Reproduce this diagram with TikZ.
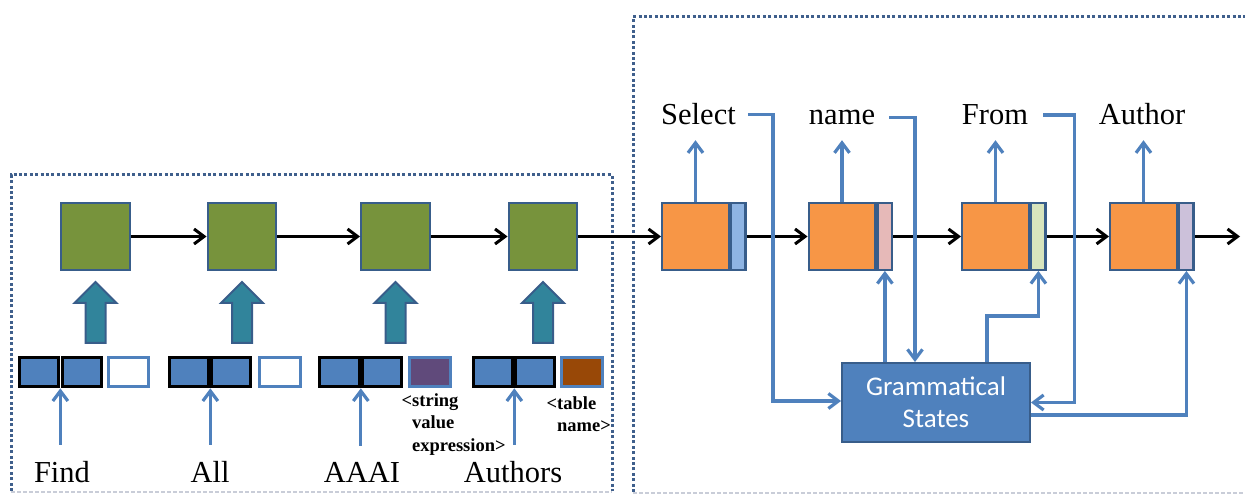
\documentclass[tikz,border=0pt]{standalone}
\usepackage{fontspec}
\setmainfont{Liberation Serif}
\newfontfamily\gsfont{Carlito}
\usetikzlibrary{arrows.meta}

\definecolor{edgeblue}{HTML}{385D8A}
\definecolor{framecol}{HTML}{3F5F8C}
\definecolor{framelight}{HTML}{C9CDD8}
\definecolor{leaf}{HTML}{77933C}
\definecolor{orangefill}{HTML}{F79646}
\definecolor{tealfill}{HTML}{31849B}
\definecolor{cellblue}{HTML}{4F81BD}
\definecolor{plum}{HTML}{604A7B}
\definecolor{rust}{HTML}{984807}
\definecolor{stripA}{HTML}{8EB4E3}
\definecolor{stripB}{HTML}{E6B9B8}
\definecolor{stripC}{HTML}{D7E4BD}
\definecolor{stripD}{HTML}{CCC1DA}
\definecolor{wireblue}{HTML}{4F81BD}

\begin{document}
\begin{tikzpicture}[x=1pt,y=-1pt,
  frame/.style={draw=framecol, line width=3pt, dash pattern=on 3pt off 2.4pt},
  framebottom/.style={draw=framelight, line width=1.6pt, dash pattern=on 4pt off 2pt},
  gbox/.style={draw=edgeblue, fill=leaf, line width=2.4pt, minimum width=68.5pt, minimum height=66.5pt, inner sep=0pt},
  obox/.style={draw=edgeblue, fill=orangefill, line width=2.4pt, minimum width=66.5pt, minimum height=66.5pt, inner sep=0pt},
  strip/.style={draw=edgeblue, fill=#1, line width=2.4pt, minimum width=14.5pt, minimum height=66.5pt, inner sep=0pt, anchor=west},
  ecell/.style={draw=black, fill=cellblue, line width=3.2pt, minimum width=39.5pt, minimum height=29.5pt, inner sep=0pt},
  tcell/.style={draw=cellblue, fill=#1, line width=2.6pt, minimum width=40.5pt, minimum height=29.5pt, inner sep=0pt},
  word/.style={font=\fontsize{30.5}{34}\selectfont, inner sep=0pt, text depth=0pt, anchor=base},
  tag/.style={font=\fontsize{18.5}{22.5}\selectfont\bfseries, inner sep=0pt, align=left, anchor=north west},
  flow/.style={draw=black, line width=3pt, -{Straight Barb[length=10pt,width=15pt]}},
  wire/.style={draw=wireblue, line width=3.2pt, -{Straight Barb[length=10pt,width=15pt]}},
  fatarrow/.style={draw=edgeblue, fill=tealfill, line width=2pt},
  gstate/.style={draw=edgeblue, fill=cellblue, line width=2.4pt, minimum width=187.5pt, minimum height=78.5pt,
    inner sep=0pt, text=white, align=center, font=\gsfont\fontsize{27}{32}\selectfont}
]
\useasboundingbox (0,0) rectangle (1245,494);

% dotted frames: encoder (left) and decoder (right)
\draw[frame] (11,491) -- (11,175) -- (612,175) -- (612,491);
\draw[framebottom] (11,492) -- (612,492);
\draw[frame] (633,492) -- (633,17) -- (1245,17);
\draw[framebottom] (633,493) -- (1245,493);

% encoder states
\node[gbox] (g1) at (95.5,236.5) {};
\node[gbox] (g2) at (242,236.5) {};
\node[gbox] (g3) at (395.5,236.5) {};
\node[gbox] (g4) at (543,236.5) {};

% decoder states with grammatical-state strips
\node[obox] (o1) at (695.5,236.5) {};
\node[strip=stripA] (s1) at (o1.east) {};
\node[obox] (o2) at (842,236.5) {};
\node[strip=stripB] (s2) at (o2.east) {};
\node[obox] (o3) at (995.5,236.5) {};
\node[strip=stripC] (s3) at (o3.east) {};
\node[obox] (o4) at (1143.5,236.5) {};
\node[strip=stripD] (s4) at (o4.east) {};
\coordinate (tail) at (1240,236.5);

% recurrent connections
\draw[flow] (g1.east) -- (g2.west);
\draw[flow] (g2.east) -- (g3.west);
\draw[flow] (g3.east) -- (g4.west);
\draw[flow] (g4.east) -- (o1.west);
\draw[flow] (s1.east) -- (o2.west);
\draw[flow] (s2.east) -- (o3.west);
\draw[flow] (s3.east) -- (o4.west);
\draw[flow] (s4.east) -- (tail);

% block arrows from input embeddings to encoder states
\foreach \g in {g1,g2,g3,g4}{
  \begin{scope}[shift={(\g.south)}]
    \draw[fatarrow] (0,11) -- (21,32) -- (10,32) -- (10,72) -- (-10,72) -- (-10,32) -- (-21,32) -- cycle;
  \end{scope}
}

% input embeddings: word vector (two cells) + type cell
\node[ecell] (e1a) at (39,372) {};
\node[ecell] (e1b) at (82,372) {};
\node[tcell=white] (e1c) at (128.5,372) {};
\node[ecell] (e2a) at (189,372) {};
\node[ecell] (e2b) at (231,372) {};
\node[tcell=white] (e2c) at (280,372) {};
\node[ecell] (e3a) at (339.5,372) {};
\node[ecell] (e3b) at (382,372) {};
\node[tcell=plum] (e3c) at (430,372) {};
\node[ecell] (e4a) at (493,372) {};
\node[ecell] (e4b) at (535,372) {};
\node[tcell=rust] (e4c) at (582,372) {};

% input words
\node[word] (find) at (62,482) {Find};
\node[word] (all) at (210,482) {All};
\node[word] (aaai) at (362,482) {AAAI};
\node[word] (authors) at (513,482) {Authors};

\draw[wire, shorten <=16pt] (e1a.south east |- find.north) -- (e1a.south east);
\draw[wire, shorten <=16pt] (e2a.south east |- all.north) -- (e2a.south east);
\draw[wire, shorten <=16pt] (e3a.south east |- aaai.north) -- (e3a.south east);
\draw[wire, shorten <=16pt] (e4a.south east |- authors.north) -- (e4a.south east);

% type annotations
\node[tag] (tstr) at (412,393) {\llap{<}string\\value\\expression>};
\node[tag] (ttab) at (557,396) {\llap{<}table\\name>};

% output tokens
\node[word] (sel) at (698.5,125) {Select};
\node[word] (nm) at (842,125) {name};
\node[word] (fr) at (995,125) {From};
\node[word] (au) at (1142,125) {Author};

\draw[wire, shorten >=15pt] (o1.north) -- (o1.north |- sel.south);
\draw[wire, shorten >=15pt] (o2.north) -- (o2.north |- nm.south);
\draw[wire, shorten >=15pt] (o3.north) -- (o3.north |- fr.south);
\draw[wire, shorten >=15pt] (o4.north) -- (o4.north |- au.south);

% grammatical state tracker
\node[gstate] (gs) at (936,402.5) {Grammatical\\States};

\draw[wire] ([xshift=12pt]sel.east) -- ++(25,0) |- ([yshift=1.5pt]gs.west);
\draw[wire] ([xshift=14pt]nm.east) -| ([xshift=-21pt]gs.north);
\draw[wire] (s2.south |- gs.north) -- (s2.south);
\draw[wire] ([xshift=51pt]gs.north) |- ([yshift=-45pt]s3.south) -- (s3.south);
\draw[wire] ([xshift=15pt]fr.east) -- ++(31,0) |- (gs.east);
\draw[wire] ([yshift=-12.5pt]gs.east) -| (s4.south);
\end{tikzpicture}
\end{document}
